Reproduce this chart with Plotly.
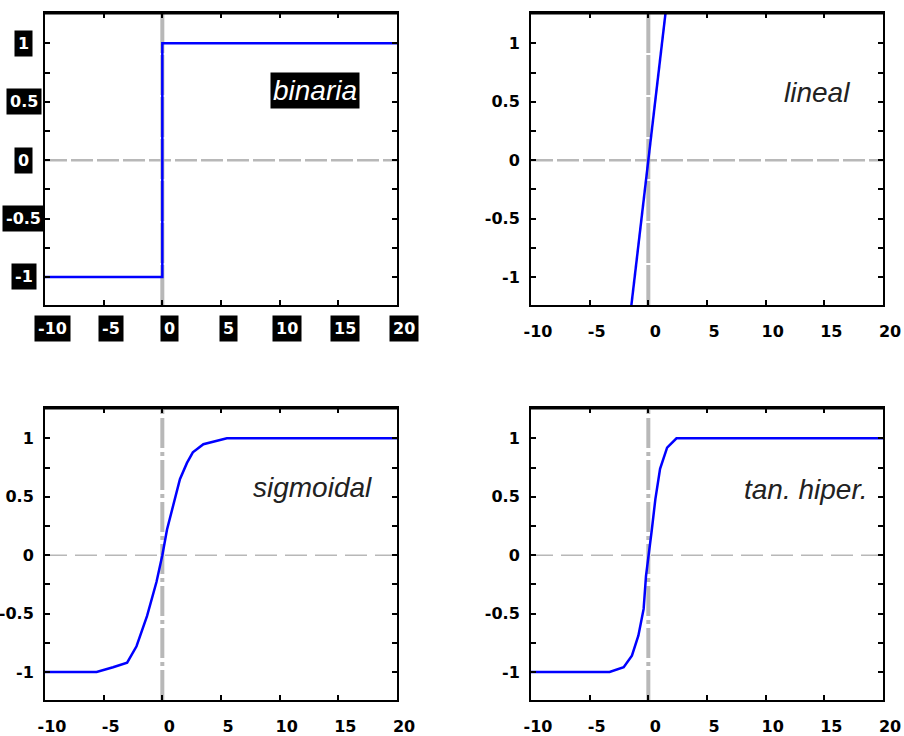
import plotly.graph_objects as go

# ---- data ----
x_tick_vals = [-10, -5, 0, 5, 10, 15, 20]
x_tick_text = ["-10", "-5", "0", "5", "10", "15", "20"]
y_tick_vals = [-1, -0.75, -0.5, -0.25, 0, 0.25, 0.5, 0.75, 1]
y_tick_text = ["-1", "", "-0.5", "", "0", "", "0.5", "", "1"]

binaria_x = [-10, 0, 0, 20]
binaria_y = [-1, -1, 1, 1]

lineal_x = [-1.5, 1.5]
lineal_y = [-1.29, 1.29]

sigmoidal_x = [-10, -5.6, -4.2, -3.0, -2.2, -1.3, -0.5, 0, 0.4, 0.9, 1.5, 2.1, 2.6, 3.5, 4.6, 5.5, 20]
sigmoidal_y = [-1, -1, -0.96, -0.92, -0.78, -0.52, -0.23, 0, 0.22, 0.42, 0.65, 0.79, 0.88, 0.95, 0.98, 1, 1]

tanh_x = [-10, -3.3, -2.1, -1.4, -0.85, -0.4, -0.2, 0.05, 0.3, 0.6, 1.0, 1.6, 2.4, 20]
tanh_y = [-1, -1, -0.96, -0.86, -0.69, -0.46, -0.18, 0, 0.22, 0.48, 0.74, 0.92, 1, 1]

panel_names = ["binaria", "lineal", "sigmoidal", "tan. hiper."]
label_pos = [(13.0, 0.60), (14.4, 0.58), (12.8, 0.58), (13.4, 0.56)]

X_RANGE = [-10, 20]
Y_RANGE = [-1.24, 1.26]

W, H = 904, 736
BLUE = "#0000ff"
GRAY = "#b8b8b8"
TICKFONT = dict(family="DejaVu Sans", size=16, color="black", weight="bold")

# panel pixel boxes (left, right, top, bottom)
boxes = [(45, 397, 13, 305), (531, 883, 13, 305), (45, 397, 408, 700), (531, 883, 408, 700)]

fig = go.Figure()
series = [(binaria_x, binaria_y), (lineal_x, lineal_y), (sigmoidal_x, sigmoidal_y), (tanh_x, tanh_y)]

layout = dict(
    width=W, height=H,
    margin=dict(l=0, r=0, t=0, b=0, autoexpand=False),
    paper_bgcolor="white", plot_bgcolor="white",
    showlegend=False,
    shapes=[], annotations=[],
)

for i, ((sx, sy), (l, r, t, b)) in enumerate(zip(series, boxes)):
    n = "" if i == 0 else str(i + 1)
    xa, ya = "x" + n, "y" + n
    fig.add_trace(go.Scatter(x=sx, y=sy, mode="lines", xaxis=xa, yaxis=ya,
                             line=dict(color=BLUE, width=2.5)))
    top_row = i < 2
    common = dict(showgrid=False, zeroline=False, showline=True, linecolor="black",
                  linewidth=2, mirror="ticks", ticks="inside", ticklen=5,
                  tickwidth=1.5, tickcolor="black", tickfont=TICKFONT, automargin=False)
    layout["xaxis" + n] = dict(
        common, domain=[l / W, r / W], range=X_RANGE, anchor=ya,
        tickmode="array", tickvals=x_tick_vals, ticktext=x_tick_text,
        ticklabelshift=7, ticklabelstandoff=11, showticklabels=(i != 0))
    layout["yaxis" + n] = dict(
        common, domain=[1 - b / H, 1 - t / H], range=Y_RANGE, anchor=xa,
        tickmode="array", tickvals=y_tick_vals, ticktext=y_tick_text,
        ticklabelstandoff=6, showticklabels=(i != 0))

    # reference axes lines
    layout["shapes"].append(dict(type="line", xref=xa, yref=ya + " domain", x0=0, x1=0, y0=0, y1=1,
                                 line=dict(color=GRAY, width=4,
                                           dash="40px,2px" if top_row else "30px,4px,4px,4px"),
                                 layer="below"))
    layout["shapes"].append(dict(type="line", xref=xa + " domain", yref=ya, x0=0, x1=1, y0=0, y1=0,
                                 line=dict(color=GRAY, width=2.5 if top_row else 1.5,
                                           dash="22px,4px" if top_row else "22px,8px"),
                                 layer="below"))
    # thicker top border
    layout["shapes"].append(dict(type="line", xref=xa + " domain", yref=ya + " domain",
                                 x0=0, x1=1, y0=1, y1=1, line=dict(color="black", width=3)))

    # panel label
    lx, ly = label_pos[i]
    ann = dict(xref=xa, yref=ya, x=lx, y=ly, text="<i>" + panel_names[i] + "</i>", showarrow=False,
               font=dict(family="Liberation Sans", size=28, color="white" if i == 0 else "#222222"))
    if i == 0:
        ann.update(bgcolor="black", borderpad=2)
    layout["annotations"].append(ann)

# top-left panel: white-on-black tick labels
for v, txt in zip(y_tick_vals, y_tick_text):
    if txt:
        layout["annotations"].append(dict(
            xref="x domain", yref="y", x=-0.06, y=v, text=txt, showarrow=False,
            xanchor="center", yanchor="middle", bgcolor="black", borderpad=3,
            font=dict(family="DejaVu Sans", size=16, color="white", weight="bold")))
for v, txt in zip(x_tick_vals, x_tick_text):
    layout["annotations"].append(dict(
        xref="x", yref="y domain", x=v, y=-0.079, xshift=7, text=txt, showarrow=False,
        xanchor="center", yanchor="middle", bgcolor="black", borderpad=3,
        font=dict(family="DejaVu Sans", size=16, color="white", weight="bold")))

fig.update_layout(**layout)
fig.write_html("out.html", config={"displayModeBar": False},
               post_script="document.body.style.margin='0';document.body.style.padding='0';")
